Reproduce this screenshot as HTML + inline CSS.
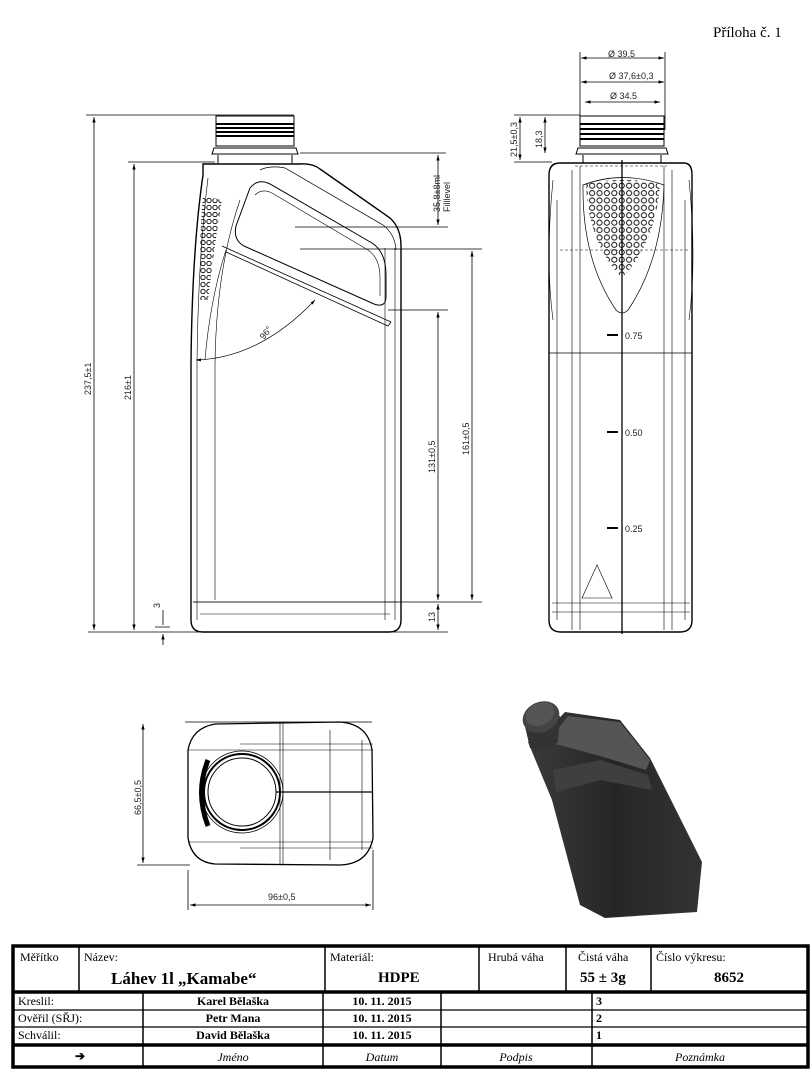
<!DOCTYPE html>
<html><head><meta charset="utf-8"><style>
html,body{margin:0;padding:0;background:#fff}
svg{display:block}
.t{font-family:"Liberation Sans",sans-serif;font-size:9px;fill:#222}
.s{font-family:"Liberation Serif",serif;fill:#000}
</style></head><body>
<svg width="812" height="1082" viewBox="0 0 812 1082" xmlns="http://www.w3.org/2000/svg">
<defs>
<marker id="a" viewBox="0 0 10 10" refX="10" refY="5" markerWidth="7" markerHeight="7" orient="auto-start-reverse"><path d="M0,2L10,5L0,8z" fill="#000"/></marker>
<pattern id="dots" width="7.4" height="7.4" patternUnits="userSpaceOnUse" x="618" y="182"><circle cx="3.7" cy="3.7" r="2.6" fill="none" stroke="#000" stroke-width="0.9"/></pattern>
<pattern id="dots2" width="6" height="7" patternUnits="userSpaceOnUse" x="200" y="190"><circle cx="3" cy="3.5" r="2.2" fill="none" stroke="#000" stroke-width="0.9"/></pattern>
<linearGradient id="g" x1="0" y1="0" x2="1" y2="0"><stop offset="0" stop-color="#3a3a3a"/><stop offset="0.5" stop-color="#262626"/><stop offset="1" stop-color="#333"/></linearGradient>
</defs>
<text x="713" y="37" class="s" font-size="15">Příloha č. 1</text>

<!-- SIDE VIEW -->
<g fill="none" stroke="#000" stroke-width="1">
<rect x="216" y="116" width="78" height="30"/>
<path d="M216,124h78M216,128h78M216,132h78M216,136h78" stroke-width="2"/>
<path d="M214,148h82l2,6h-86z"/>
<path d="M218,155v8M292,155v8"/>
<path d="M203,164 L300,164 Q312,163 320,169 L390,218 Q401,228 401,246 L401,620 Q401,632 389,632 L203,632 Q191,632 191,620 L191,365 Q192,250 203,175 Z" stroke-width="1.4"/>
<path d="M197,620V365Q198,260 208,178" stroke-width="0.6"/>
<path d="M215,600V365Q216,270 240,200" stroke-width="0.6"/>
<path d="M395,248V620M385,248V620" stroke-width="0.6"/>
<path d="M193,602h205M200,614h190" stroke-width="0.6"/>
<path d="M260,170 Q270,165 285,168 L383,225 Q395,234 396,250" stroke-width="0.7"/>
<path d="M250,188 Q258,178 270,184 L372,243 Q386,252 386,275 L386,298 Q385,308 374,304 L244,246 Q233,240 236,226 Z" stroke-width="1"/>
<path d="M255,195 Q262,188 272,193 L368,250 Q380,258 380,278 L380,296" stroke-width="0.6"/>
<path d="M222,246 L391,322 M226,252 L388,326 L391,322" stroke-width="0.8"/>
<path d="M226,250 Q210,300 205,360" stroke-width="0.6"/>
<path d="M196,360 Q260,358 315,300" stroke-width="0.7" marker-start="url(#a)" marker-end="url(#a)"/>
</g>
<path d="M203,196 L222,200 Q215,240 208,300 L200,300 Q199,240 203,196Z" fill="url(#dots2)"/>
<text class="t" transform="translate(264,340) rotate(-52)">96°</text>
<g fill="none" stroke="#000" stroke-width="0.8">
<path d="M86,115H294M128,162H215M300,153H446M295,227H448M300,249H482M388,310H448M193,602H482M88,632H448M155,627H170"/>
<path d="M94,117V630" marker-start="url(#a)" marker-end="url(#a)"/>
<path d="M134,164V630" marker-start="url(#a)" marker-end="url(#a)"/>
<path d="M438,155V225" marker-start="url(#a)" marker-end="url(#a)"/>
<path d="M472,251V600" marker-start="url(#a)" marker-end="url(#a)"/>
<path d="M438,312V600" marker-start="url(#a)" marker-end="url(#a)"/>
<path d="M438,604V630" marker-start="url(#a)" marker-end="url(#a)"/>
<path d="M163,610V625M163,645V634" marker-end="url(#a)"/>
</g>
<text class="t" transform="translate(91,395) rotate(-90)">237,5±1</text>
<text class="t" transform="translate(131,400) rotate(-90)">216±1</text>
<text class="t" transform="translate(440,212) rotate(-90)">35,8±8ml</text>
<text class="t" transform="translate(450,212) rotate(-90)">Filllevel</text>
<text class="t" transform="translate(469,455) rotate(-90)">161±0,5</text>
<text class="t" transform="translate(435,473) rotate(-90)">131±0,5</text>
<text class="t" transform="translate(435,622) rotate(-90)">13</text>
<text class="t" transform="translate(160,608) rotate(-90)">3</text>

<!-- FRONT VIEW -->
<g fill="none" stroke="#000" stroke-width="1">
<rect x="580" y="116" width="84" height="30"/>
<path d="M580,124h84M580,129h84M580,134h84M580,139h84" stroke-width="2"/>
<path d="M578,148h88l2,6h-92z"/>
<path d="M583,155v8M661,155v8"/>
<path d="M560,163H684Q692,163 692,175V620Q692,632 680,632H561Q549,632 549,620V175Q549,163 560,163Z" stroke-width="1.4"/>
<path d="M557,200V620M572,170V630M580,166V630M664,166V630M672,170V630M685,200V620" stroke-width="0.6"/>
<path d="M622,160V634" stroke-width="1.3"/>
<path d="M549,353H692" stroke-width="0.8"/>
<path d="M560,250H690" stroke-width="0.5" stroke-dasharray="3,2"/>
<path d="M575,166H667" stroke-width="0.5" stroke-dasharray="3,2"/>
<path d="M552,603H690M552,612H690" stroke-width="0.6"/>
<path d="M583,185 Q622,170 664,185 Q662,260 628,310 Q622,316 616,310 Q582,260 583,185Z" stroke-width="0.7"/>
<path d="M553,180 Q545,260 553,320M689,180 Q697,260 689,320" stroke-width="0.6"/>
<path d="M597,565 L582,598 L612,598 Z" stroke-width="0.6"/>
<path d="M607,335h11M607,432h11M607,528h11" stroke-width="2"/>
</g>
<path d="M586,184 Q622,176 660,184 Q656,240 625,275 L619,275 Q588,240 586,184Z" fill="url(#dots)"/>
<text class="t" x="625" y="339" font-size="10">0.75</text>
<text class="t" x="625" y="436" font-size="10">0.50</text>
<text class="t" x="625" y="532" font-size="10">0.25</text>
<g fill="none" stroke="#000" stroke-width="0.8">
<path d="M580,52V130M665,52V130M514,115H580M514,162H552"/>
<path d="M581,58H664" marker-start="url(#a)" marker-end="url(#a)"/>
<path d="M581,82H664" marker-start="url(#a)" marker-end="url(#a)"/>
<path d="M585,102H660" marker-start="url(#a)" marker-end="url(#a)"/>
<path d="M520,117V160" marker-start="url(#a)" marker-end="url(#a)"/>
<path d="M545,117V153" marker-start="url(#a)" marker-end="url(#a)"/>
</g>
<text class="t" x="608" y="57">Ø 39.5</text>
<text class="t" x="609" y="79">Ø 37,6±0,3</text>
<text class="t" x="610" y="99">Ø 34.5</text>
<text class="t" transform="translate(517,157) rotate(-90)">21,5±0,3</text>
<text class="t" transform="translate(542,148) rotate(-90)">18,3</text>

<!-- BOTTOM VIEW -->
<g fill="none" stroke="#000" stroke-width="1">
<path d="M188,750 Q192,728 215,724 L340,722 Q368,724 372,750 L373,838 Q368,864 340,865 L215,864 Q192,862 188,838 Z" stroke-width="1.3"/>
<path d="M188,750H373M188,842H373M240,744H373M240,848H373M280,722V865M283,722V865M330,730V860M362,740V850" stroke-width="0.6"/>
<circle cx="242" cy="792" r="41" stroke-width="0.8"/>
<circle cx="242" cy="792" r="38" stroke-width="2"/>
<circle cx="242" cy="792" r="34" stroke-width="1"/>
<path d="M276,792H372" stroke-width="1.3"/>
<path d="M208,760 Q195,792 208,826" stroke-width="5"/>
<path d="M185,722H372M137,865H190M188,870V910M373,850V910" stroke-width="0.8"/>
<path d="M143,724V863" stroke-width="0.8" marker-start="url(#a)" marker-end="url(#a)"/>
<path d="M190,905H371" stroke-width="0.8" marker-start="url(#a)" marker-end="url(#a)"/>
</g>
<text class="t" transform="translate(141,815) rotate(-90)">66,5±0,5</text>
<text class="t" x="268" y="900">96±0,5</text>

<!-- 3D -->
<path d="M528,742 L548,730 L565,712 L620,720 L650,758 L702,862 L697,912 L605,918 L580,905 L552,800 Z" fill="url(#g)"/>
<path d="M548,742 L568,716 L620,722 L650,760 L646,770 L600,756 Z" fill="#555"/>
<path d="M553,770 L600,760 L648,775 L652,790 L600,780 L556,792 Z" fill="#3f3f3f"/>
<path d="M524,722 L530,748 Q545,755 558,742 L560,716 Z" fill="#333"/>
<ellipse cx="541" cy="717" rx="19" ry="15" fill="#444" transform="rotate(-25 541 717)"/>
<ellipse cx="540" cy="714" rx="15" ry="11" fill="#555" transform="rotate(-25 540 714)"/>

<!-- TITLE BLOCK -->
<g fill="none" stroke="#000">
<rect x="13" y="946" width="795" height="121" stroke-width="3.5"/>
<path d="M13,992H808M13,1045H808" stroke-width="3.5"/>
<path d="M13,1010H808M13,1027H808" stroke-width="1.2"/>
<path d="M79,946V992M325,946V992M479,946V992M566,946V992M651,946V992" stroke-width="1.5"/>
<path d="M143,992V1067M323,992V1067M441,992V1067M592,992V1067" stroke-width="1.5"/>
</g>
<g class="s" font-size="12">
<text x="20" y="961">Měřítko</text>
<text x="84" y="961">Název:</text>
<text x="111" y="984" font-size="17" font-weight="bold">Láhev 1l „Kamabe“</text>
<text x="330" y="961">Materiál:</text>
<text x="378" y="982" font-size="15" font-weight="bold">HDPE</text>
<text x="488" y="961">Hrubá váha</text>
<text x="578" y="961">Čistá váha</text>
<text x="580" y="982" font-size="15" font-weight="bold">55 ± 3g</text>
<text x="656" y="961">Číslo výkresu:</text>
<text x="714" y="982" font-size="15" font-weight="bold">8652</text>
<text x="18" y="1005">Kreslil:</text>
<text x="18" y="1022">Ověřil (SŘJ):</text>
<text x="18" y="1039">Schválil:</text>
<g font-weight="bold" text-anchor="middle">
<text x="233" y="1005">Karel Bělaška</text>
<text x="233" y="1022">Petr Mana</text>
<text x="233" y="1039">David Bělaška</text>
<text x="382" y="1005">10. 11. 2015</text>
<text x="382" y="1022">10. 11. 2015</text>
<text x="382" y="1039">10. 11. 2015</text>
</g>
<text x="596" y="1005" font-weight="bold">3</text>
<text x="596" y="1022" font-weight="bold">2</text>
<text x="596" y="1039" font-weight="bold">1</text>
<g font-style="italic" text-anchor="middle">
<text x="233" y="1061">Jméno</text>
<text x="382" y="1061">Datum</text>
<text x="516" y="1061">Podpis</text>
<text x="700" y="1061">Poznámka</text>
</g>
<text x="80" y="1060" font-weight="bold" text-anchor="middle">➔</text>
</g>
</svg>
</body></html>
